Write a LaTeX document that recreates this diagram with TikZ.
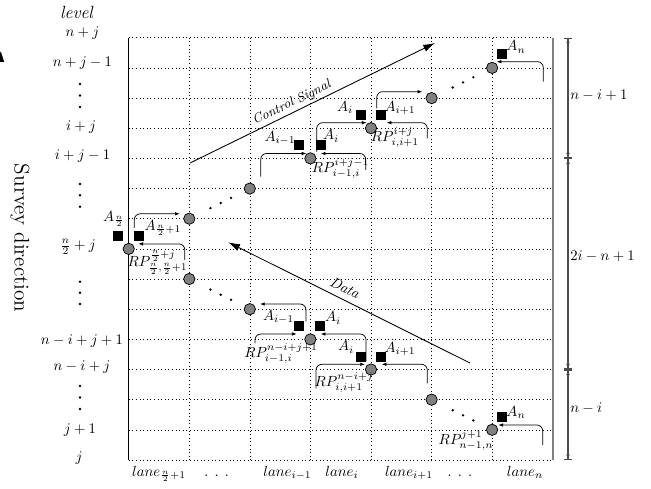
\documentclass[tikz,border=0pt]{standalone}
\usetikzlibrary{arrows.meta,calc}
\begin{document}
\begin{tikzpicture}[x=0.68pt,y=-0.68pt,
  gridline/.style={dotted, line width=0.45pt},
  relay/.style={circle, draw=black, fill=gray, line width=0.5pt, minimum size=7.7pt, inner sep=0pt},
  ap/.style={rectangle, fill=black, minimum size=6.6pt, inner sep=0pt},
  bracket/.style={-{Latex[length=3.2pt,width=2.4pt]}, rounded corners=4pt, line width=0.5pt},
  flow/.style={-{Latex[length=8pt,width=5pt]}, line width=0.6pt},
  dimline/.style={{Bar[width=5pt]Latex[length=3pt,width=2.6pt]}-{Latex[length=3pt,width=2.6pt]Bar[width=5pt]}, draw=gray!60!black, line width=0.7pt},
  lbl/.style={inner sep=0pt},
  dotmark/.style={fill=black},
]
\useasboundingbox (0,0) rectangle (651,489);

% partial arrow tip at the left edge
\fill (-4,62) -- (0.8,51.5) -- (4.2,62) -- cycle;

% lattice of levels and lanes
\foreach \k in {0,...,14}
  \draw[gridline] (128.7,{460-30.16*\k}) -- (552.7,{460-30.16*\k});
\foreach \c in {1,...,6}
  \draw[gridline] ({128.7+60.57*\c},37.8) -- ({128.7+60.57*\c},460);
\draw[line width=0.7pt] (128.7,37.8) -- (128.7,460);
\draw[gray, line width=1.2pt] (552.7,37.8) -- (552.7,460);

% dimension line on the right
\draw[dimline] (568,37.8) -- (568,158.4);
\draw[dimline] (568,158.4) -- (568,369.5);
\draw[dimline] (568,369.5) -- (568,460);
\node[lbl, anchor=west] (dimA) at (570,95) {$n-i+1$};
\node[lbl, anchor=west] (dimB) at (570,256) {$2i-n+1$};
\node[lbl, anchor=west] (dimC) at (570,408) {$n-i$};

% level labels
\node[lbl] (lvl) at (77,12) {\large\textit{level}};
\node[lbl] (L14) at (82.5,33) {$n+j$};
\node[lbl] (L13) at (82.5,63) {$n+j-1$};
\node[lbl] (L11) at (81,127.5) {$i+j$};
\node[lbl] (L10) at (82.5,156) {$i+j-1$};
\node[lbl] (L7) at (78,247) {$\frac{n}{2}+j$};
\node[lbl] (L4) at (82,341) {$n-i+j+1$};
\node[lbl] (L3) at (82,366.7) {$n-i+j$};
\node[lbl] (L1) at (80,430) {$j+1$};
\node[lbl] (L0) at (79,458) {$j$};
\foreach \y in {84,95.5,107, 184,195.3,206.7, 281.7,292.8,304, 386,397.5,409}
  \fill[dotmark] (80,\y) circle (0.9pt);

% lane labels
\node[lbl, anchor=base] (ln1) at (159,476) {$lane_{\frac{n}{2}+1}$};
\node[lbl, anchor=base] (ln2) at (216.7,476) {.\hspace{4.2pt}.\hspace{4.2pt}.};
\node[lbl, anchor=base] (ln3) at (287.5,476) {$lane_{i-1}$};
\node[lbl, anchor=base] (ln4) at (342,476) {$lane_{i}$};
\node[lbl, anchor=base] (ln5) at (409,476) {$lane_{i+1}$};
\node[lbl, anchor=base] (ln6) at (460,476) {.\hspace{4.2pt}.\hspace{4.2pt}.};
\node[lbl, anchor=base] (ln7) at (525,476) {$lane_{n}$};

\node[rotate=-90] (survey) at (20,238) {\Large Survey direction};

% control signal and data arrows
\coordinate (csS) at (190,163);
\coordinate (csE) at (435,43);
\draw[flow] (csS) -- (csE);
\node[lbl, rotate=26.1] (csL) at (292,103) {\small\textit{Control Signal}};
\coordinate (dtS) at (470,363);
\coordinate (dtE) at (228.3,242.3);
\draw[flow] (dtS) -- (dtE);
\node[lbl, rotate=-26.6] (dtL) at (345,288) {\textit{Data}};

% relay points
\node[relay] (n0) at (128.7,248.9) {};
\node[relay] (u1) at (189.3,218.7) {};
\node[relay] (u2) at (249.8,188.6) {};
\node[relay] (u3) at (310.4,158.4) {};
\node[relay] (u4) at (371.0,128.2) {};
\node[relay] (u5) at (431.6,98.1) {};
\node[relay] (u6) at (492.1,67.9) {};
\node[relay] (d1) at (189.3,279.0) {};
\node[relay] (d2) at (249.8,309.2) {};
\node[relay] (d3) at (310.4,339.4) {};
\node[relay] (d4) at (371.0,369.5) {};
\node[relay] (d5) at (431.6,399.7) {};
\node[relay] (d6) at (492.1,429.8) {};

% gaps between relay points
\foreach \a/\b in {u1/u2, d1/d2, u5/u6, d5/d6}
  \foreach \t in {0.35,0.52,0.69}
    \fill[dotmark] ($(\a)!\t!(\b)$) circle (0.9pt);

% access points
\node[ap] (sa) at (118.3,236) {};
\node[ap] (sb) at (139.3,236) {};
\node[ap] (sc) at (299.3,145) {};
\node[ap] (sd) at (320.7,145) {};
\node[ap] (se) at (361,115) {};
\node[ap] (sf) at (380.7,115) {};
\node[ap] (sg) at (501.7,54.3) {};
\node[ap] (sh) at (299.3,326) {};
\node[ap] (si) at (320,326) {};
\node[ap] (sj) at (361,356.7) {};
\node[ap] (sk) at (380.7,356.7) {};
\node[ap] (sl) at (501.7,417.3) {};

% transfer brackets
\draw[bracket] ($(n0)+(5.6,-21)$) |- ($(u1)+(-9.5,-4.9)$);
\draw[bracket] ($(d1)+(-4.5,-19)$) |- ($(n0)+(9.6,-5)$);
\draw[bracket] ($(u2)+(10.9,-11.9)$) |- ($(u3)+(-4,-4.9)$);
\draw[bracket] ($(u3)+(55.3,11.6)$) |- ($(u3)+(10.3,-4.9)$);
\draw[bracket] ($(u3)+(6.3,-6.7)$) |- ($(u4)+(-4.3,-5.5)$);
\draw[bracket] ($(u4)+(56.3,10.1)$) |- ($(u4)+(15.7,-5.5)$);
\draw[bracket] ($(u4)+(5.7,-19.9)$) |- ($(u5)+(-9.3,-6.4)$);
\draw[bracket] ($(u6)+(51.2,13.8)$) |- ($(u6)+(4.6,-6.2)$);
\draw[bracket] ($(d3)+(-4.4,-17.7)$) |- ($(d2)+(10.2,-5.2)$);
\draw[bracket] ($(d3)+(-55.4,3.9)$) |- ($(d3)+(-13.7,-5.4)$);
\draw[bracket] ($(d4)+(-5,-7.8)$) |- ($(d3)+(10.3,-5.4)$);
\draw[bracket] ($(d3)+(5.6,48.9)$) |- ($(d4)+(-6,-5.2)$);
\draw[bracket] ($(d5)+(-4.3,-16.4)$) |- ($(d4)+(10.7,-5.2)$);
\draw[bracket] ($(d6)+(50.6,15.2)$) |- ($(d6)+(6.2,-4.8)$);

% labels of access points and relay points
\node[lbl] (la) at (114,219) {$A_{\frac{n}{2}}$};
\node[lbl] (lb) at (163,228) {$A_{\frac{n}{2}+1}$};
\node[lbl] (lr0) at (157.5,262.5) {$RP^{\frac{n}{2}+j}_{\frac{n}{2},\frac{n}{2}+1}$};
\node[lbl] (lc) at (280,138) {$A_{i-1}$};
\node[lbl] (ld) at (331,136) {$A_{i}$};
\node[lbl] (lr3) at (340.5,169) {$RP^{i+j-1}_{i-1,i}$};
\node[lbl] (le) at (345,107.7) {$A_{i}$};
\node[lbl] (lf) at (400,108) {$A_{i+1}$};
\node[lbl] (lr4) at (395,138) {$RP^{i+j}_{i,i+1}$};
\node[lbl] (lg) at (516,47) {$A_{n}$};
\node[lbl] (lh) at (278.5,317) {$A_{i-1}$};
\node[lbl] (li) at (333,318) {$A_{i}$};
\node[lbl] (lr5) at (281,354) {$RP^{n-i+j+1}_{i-1,i}$};
\node[lbl] (lj) at (346,347) {$A_{i}$};
\node[lbl] (lk) at (400,349) {$A_{i+1}$};
\node[lbl] (lr6) at (344,382.5) {$RP^{n-i+j}_{i,i+1}$};
\node[lbl] (ll) at (516,412.5) {$A_{n}$};
\node[lbl] (lr7) at (466,440.5) {$RP^{j+1}_{n-1,n}$};
\end{tikzpicture}
\end{document}
